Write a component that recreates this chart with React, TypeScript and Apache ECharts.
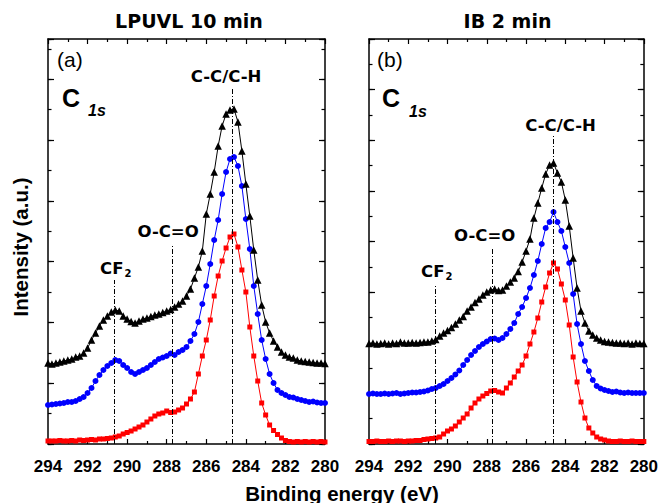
import React, { useEffect, useRef } from "react";
import * as echarts from "echarts";

// Binding energy grid (eV), shared by all spectra
const energies = [
  294.0, 293.8, 293.6, 293.4, 293.2, 293.0, 292.8, 292.6, 292.4, 292.2,
  292.0, 291.8, 291.6, 291.4, 291.2, 291.0, 290.8, 290.6, 290.4, 290.2,
  290.0, 289.8, 289.6, 289.4, 289.2, 289.0, 288.8, 288.6, 288.4, 288.2,
  288.0, 287.8, 287.6, 287.4, 287.2, 287.0, 286.8, 286.6, 286.4, 286.2,
  286.0, 285.8, 285.6, 285.4, 285.2, 285.0, 284.8, 284.6, 284.4, 284.2,
  284.0, 283.8, 283.6, 283.4, 283.2, 283.0, 282.8, 282.6, 282.4, 282.2,
  282.0, 281.8, 281.6, 281.4, 281.2, 281.0, 280.8, 280.6, 280.4, 280.2,
  280.0,
];

// Panel (a) LPUVL 10 min — intensities (a.u.)
const lpuvlBlack = [
  81, 80, 81, 82, 83, 84, 85, 87, 88, 91,
  96, 104, 111, 118, 124, 128, 132, 134, 133, 128,
  125, 122.5, 121, 123, 125, 126, 127.5, 129, 130, 131.5,
  133, 134.5, 137, 140, 143, 148, 155, 166, 177, 193,
  230, 250, 272, 298, 318, 330, 334, 335, 322, 293,
  260, 228, 194, 164, 139, 122, 111, 103, 97, 92,
  89, 87, 86, 84, 83, 82.5, 82, 81.5, 81, 81,
  80.5,
];
const lpuvlBlue = [
  39, 39.5, 40, 40.5, 41, 42, 42, 43, 45, 47,
  51, 56, 63, 69, 74, 78, 81, 84, 83, 79,
  76, 72, 70, 72, 74, 76, 79, 82, 85, 86.5,
  88, 90.5, 89, 92, 94, 97, 103, 110, 122, 140,
  158, 180, 204, 224, 250, 272, 285, 287, 278, 258,
  225, 195, 158, 130, 104, 85, 70, 61, 54, 51,
  49, 47, 46.5, 45, 44, 43, 42, 42.5, 41.5, 41,
  41,
];
const lpuvlRed = [
  3, 3, 3, 3.5, 3, 3, 3.5, 3, 4, 3.5,
  4, 4.5, 4, 5, 5, 5.5, 6, 7, 8, 10,
  11.5, 13, 15, 17, 19, 22, 25, 28, 30, 31,
  33, 31.5, 32, 34, 36, 40, 45, 52, 70, 88,
  104, 124, 148, 168, 183, 196, 207, 210, 197, 174,
  152, 117, 88, 63, 41, 29, 19, 13.5, 9.5, 6,
  3.5, 2.5, 2, 2.5, 2, 2.5, 2, 2.5, 2, 2.5,
  2,
];

// Panel (b) IB 2 min — intensities (a.u.)
const ibBlack = [
  100.5, 101, 100, 100.5, 101, 100, 101, 100.5, 102, 101,
  101, 101.5, 101, 101.5, 102, 102, 103, 104.5, 108, 111,
  113.5, 116.5, 120, 124, 127.5, 133, 137, 141.5, 145, 149,
  152, 154, 155, 153.5, 154, 158, 162, 166, 172.5, 182,
  193, 205, 226, 241, 256, 270, 279, 281, 271, 262,
  244, 218, 186, 156, 133, 121, 113, 109, 106, 104,
  102.5, 102, 101.5, 101, 101, 100.5, 101, 100, 101, 100.5,
  100.5,
];
const ibBlue = [
  50, 50.5, 50, 50, 50.5, 50, 50.5, 51, 50, 50.5,
  51, 51.5, 51.5, 52, 52.5, 53.5, 55, 56, 58, 60,
  63, 66, 69.5, 73.5, 79, 84, 89, 93, 97, 100,
  102.5, 105, 105.5, 104, 106, 110, 115, 121, 130, 137,
  146, 156, 169, 183, 200, 216, 222, 232, 222, 213,
  197, 181, 150, 120, 100, 83, 73, 64, 58, 55.5,
  54, 53, 52, 52.5, 51.5, 51, 51.5, 51, 51, 51,
  51,
];
const ibRed = [
  2.5, 2.5, 3, 2.5, 2.5, 3, 2.5, 3, 3, 2.5,
  3, 3, 3.5, 3.5, 4.5, 5, 5.5, 6, 7, 10,
  13, 15, 18, 22, 26, 30, 36, 41, 45, 48,
  50.5, 53, 53.5, 52, 51, 56, 61, 67, 73, 79,
  88, 100, 112, 126, 142, 157, 171, 181, 175, 160,
  144, 119, 87, 62, 42, 26, 16, 11, 7, 5,
  4, 3, 2.5, 2.5, 3, 2.5, 2.5, 3, 2.5, 2.5,
  2.5,
];

const xTickValues = [294, 292, 290, 288, 286, 284, 282, 280];
const panelTitles = ["LPUVL 10 min", "IB 2 min"];
const panelTags = ["(a)", "(b)"];
const peakLabels = ["CF2", "O-C=O", "C-C/C-H"];
const peakEnergiesA = [290.65, 287.7, 284.7];
const peakEnergiesB = [290.65, 287.7, 284.6];
const peakTopsA = [164, 199, 356];
const peakTopsB = [159, 196, 308];

const SANS = '"Liberation Sans", Arial, sans-serif';
const WIDE = '"DejaVu Sans", Verdana, sans-serif';

const grids = [
  { left: 48, top: 39, width: 277, height: 405 },
  { left: 369, top: 39, width: 276, height: 405 },
];
const yMajor = [60.8, 50.625];
const yMinor = [30.4, 25.3125];

// label tweaks: [padding, distance]
const labelTweaksA: any[] = [
  { padding: [0, 0, 0, 3], distance: 2 },
  { padding: [0, 9, 0, 0], distance: 5 },
  { padding: [0, 12, 0, 0], distance: 3 },
];
const labelTweaksB: any[] = [
  { padding: [0, 0, 0, 4], distance: 4 },
  { padding: [0, 16, 0, 0], distance: 4 },
  { padding: [0, 0, 0, 14], distance: 2 },
];

function buildMarkLine(peaksE: number[], tops: number[], tweaks: any[]) {
  return {
    silent: true,
    symbol: ["none", "none"],
    animation: false,
    lineStyle: { color: "#000", width: 1, type: [5, 2, 1, 2] },
    data: peaksE.map((e, i) => {
      const isCF = peakLabels[i] === "CF2";
      return [
        {
          coord: [e, 0],
          label: {
            show: true,
            position: "end",
            distance: tweaks[i].distance,
            padding: tweaks[i].padding,
            color: "#000",
            fontFamily: WIDE,
            fontWeight: "bold",
            fontSize: 16.5,
            formatter: isCF ? "{m|CF}{s|2}" : peakLabels[i],
            rich: isCF
              ? {
                  m: { fontFamily: WIDE, fontWeight: "bold", fontSize: 16.5, lineHeight: 20, color: "#000" },
                  s: { fontFamily: WIDE, fontWeight: "bold", fontSize: 10, lineHeight: 10, padding: [10, 0, 0, 1], color: "#000" },
                }
              : undefined,
          },
        },
        { coord: [e, tops[i]] },
      ];
    }),
  };
}

export default function App() {
  const ref = useRef<HTMLDivElement>(null);
  useEffect(() => {
    if (!ref.current) return;
    const chart = echarts.init(ref.current, null, { renderer: "svg" });

    const xAxis: any[] = [];
    const yAxis: any[] = [];
    grids.forEach((_, g) => {
      const baseX = {
        gridIndex: g,
        type: "value",
        min: 280,
        max: 294,
        inverse: true,
        interval: 2,
        splitLine: { show: false },
        axisLine: { show: true, onZero: false, lineStyle: { color: "#000", width: 1.5 } },
        axisTick: { show: true, inside: true, length: 5, lineStyle: { color: "#000", width: 1.2 } },
        minorTick: { show: true, splitNumber: 2, length: 3, lineStyle: { color: "#000", width: 1.2 } },
        minorSplitLine: { show: false },
      };
      xAxis.push({
        ...baseX,
        position: "bottom",
        axisLabel: {
          show: true,
          color: "#000",
          fontFamily: SANS,
          fontWeight: "bold",
          fontSize: 17,
          margin: 14,
          formatter: (v: number) => (xTickValues.includes(v) ? String(v) : ""),
        },
      });
      xAxis.push({ ...baseX, position: "top", axisLabel: { show: false } });

      const mkY = (pos: string, interval: number, len: number, line: boolean) => ({
        gridIndex: g,
        type: "value",
        min: 0,
        max: 405,
        interval,
        position: pos,
        splitLine: { show: false },
        axisLabel: { show: false },
        axisLine: { show: line, onZero: false, lineStyle: { color: "#000", width: 1.5 } },
        axisTick: { show: true, inside: true, length: len, lineStyle: { color: "#000", width: 1.2 } },
      });
      yAxis.push(mkY("left", yMajor[g], 6, true));
      yAxis.push(mkY("left", yMinor[g], 3.5, false));
      yAxis.push(mkY("right", yMajor[g], 6, true));
      yAxis.push(mkY("right", yMinor[g], 3.5, false));
    });

    const spectra = [
      { g: 0, data: lpuvlRed, color: "#ff0000", symbol: "rect", size: 5 },
      { g: 0, data: lpuvlBlue, color: "#0000ff", symbol: "circle", size: 6 },
      { g: 0, data: lpuvlBlack, color: "#000000", symbol: "triangle", size: 7.5 },
      { g: 1, data: ibRed, color: "#ff0000", symbol: "rect", size: 5 },
      { g: 1, data: ibBlue, color: "#0000ff", symbol: "circle", size: 6 },
      { g: 1, data: ibBlack, color: "#000000", symbol: "triangle", size: 7.5 },
    ];

    const series: any[] = spectra.map((s) => ({
      type: "line",
      xAxisIndex: 2 * s.g,
      yAxisIndex: 4 * s.g,
      data: energies.map((e, i) => [e, s.data[i]]),
      symbol: s.symbol,
      symbolSize: s.size,
      showAllSymbol: true,
      itemStyle: { color: s.color },
      lineStyle: { color: s.color, width: 1 },
      silent: true,
    }));
    series[0].markLine = buildMarkLine(peakEnergiesA, peakTopsA, labelTweaksA);
    series[3].markLine = buildMarkLine(peakEnergiesB, peakTopsB, labelTweaksB);

    const txt = (text: string, x: number, y: number, opts: any = {}) => ({
      type: "text",
      x,
      y,
      silent: true,
      rotation: opts.rotation || 0,
      style: {
        text,
        fill: "#000",
        fontFamily: opts.fontFamily || SANS,
        fontSize: opts.fontSize || 16,
        fontWeight: opts.fontWeight || "normal",
        fontStyle: opts.fontStyle || "normal",
        align: opts.align || "center",
        verticalAlign: "middle",
        textAlign: opts.align || "center",
        textVerticalAlign: "middle",
      },
    });

    const graphic: any[] = [
      txt(panelTitles[0], 189, 21, { fontFamily: WIDE, fontWeight: "bold", fontSize: 19 }),
      txt(panelTitles[1], 507.5, 21, { fontFamily: WIDE, fontWeight: "bold", fontSize: 19 }),
      txt(panelTags[0], 57, 59, { fontSize: 21, align: "left" }),
      txt(panelTags[1], 377, 59, { fontSize: 21, align: "left" }),
      txt("C", 62, 98, { fontSize: 25, fontWeight: "bold", align: "left" }),
      txt("1s", 88, 110, { fontSize: 16, fontWeight: "bold", fontStyle: "italic", align: "left" }),
      txt("C", 382, 98, { fontSize: 25, fontWeight: "bold", align: "left" }),
      txt("1s", 409, 111, { fontSize: 16, fontWeight: "bold", fontStyle: "italic", align: "left" }),
      txt("Binding energy (eV)", 342, 493, { fontSize: 20.5, fontWeight: "bold" }),
      txt("Intensity (a.u.)", 20, 247, { fontSize: 20.5, fontWeight: "bold", rotation: Math.PI / 2 }),
    ];

    chart.setOption({
      animation: false,
      backgroundColor: "#ffffff",
      grid: grids.map((g) => ({ ...g, show: false, containLabel: false })),
      xAxis,
      yAxis,
      series,
      graphic,
    });
    return () => chart.dispose();
  }, []);

  return (
    <div
      ref={ref}
      style={{ position: "fixed", left: 0, top: 0, width: 661, height: 503, background: "#fff" }}
    />
  );
}
